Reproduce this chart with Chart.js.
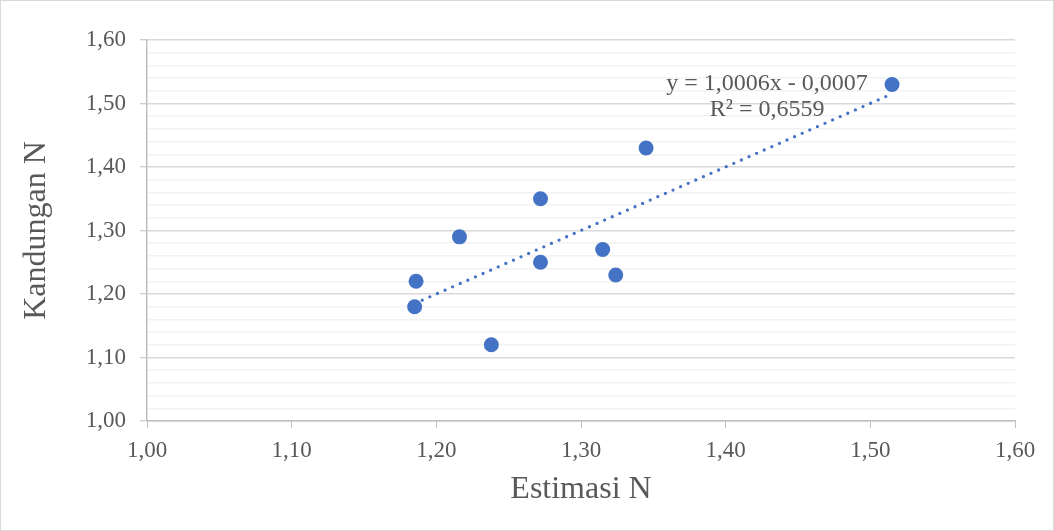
<!DOCTYPE html>
<html>
<head>
<meta charset="utf-8">
<script src="https://cdn.jsdelivr.net/npm/chart.js@4/dist/chart.umd.min.js"></script>
<style>
  html, body { margin: 0; padding: 0; background: #ffffff; }
  #wrap { width: 1054px; height: 531px; position: relative; }
</style>
</head>
<body>
<div id="wrap"><canvas id="c" width="1054" height="531"></canvas></div>
<script>
// ---- Data ----
const estimasiN   = [1.185, 1.186, 1.216, 1.238, 1.272, 1.272, 1.315, 1.324, 1.345, 1.515];
const kandunganN  = [1.18, 1.22, 1.29, 1.12, 1.35, 1.25, 1.27, 1.23, 1.43, 1.53];
const trendSlope = 1.0006;
const trendIntercept = -0.0007;
const trendLabel = ['y = 1,0006x - 0,0007', 'R² = 0,6559'];
const xTitle = 'Estimasi N';
const yTitle = 'Kandungan N';

const points = estimasiN.map((x, i) => ({ x: x, y: kandunganN[i] }));
const xMin = Math.min(...estimasiN), xMax = Math.max(...estimasiN);
const trendPoints = [xMin, xMax].map(x => ({ x: x, y: trendSlope * x + trendIntercept }));

const fmt = v => v.toFixed(2).replace('.', ',');
const isMajor = v => Math.round(v * 100) % 10 === 0;

const FONT = "'Liberation Serif', 'Times New Roman', serif";
const BLUE = '#4472C4';

const decor = {
  id: 'decor',
  afterDatasetsDraw(chart) {
    const ctx = chart.ctx;
    const xs = chart.scales.x, ys = chart.scales.y;
    ctx.save();
    ctx.fillStyle = '#595959';
    ctx.font = '24px ' + FONT;
    ctx.textAlign = 'center';
    ctx.textBaseline = 'middle';
    const cx = xs.getPixelForValue(1.4286);
    ctx.fillText(trendLabel[0], cx, ys.getPixelForValue(1.5307));
    ctx.fillText(trendLabel[1], cx, ys.getPixelForValue(1.4898));
    ctx.restore();
  },
  afterDraw(chart) {
    const ctx = chart.ctx;
    ctx.save();
    ctx.strokeStyle = '#d9d9d9';
    ctx.lineWidth = 1;
    ctx.strokeRect(0.5, 0.5, chart.width - 1, chart.height - 1);
    ctx.restore();
  }
};

new Chart(document.getElementById('c'), {
  type: 'scatter',
  data: {
    datasets: [
      {
        label: 'Trendline',
        data: trendPoints,
        showLine: true,
        borderColor: BLUE,
        borderWidth: 3.3,
        borderDash: [0, 8.3],
        borderCapStyle: 'round',
        pointRadius: 0,
        pointHoverRadius: 0,
        order: 2
      },
      {
        label: 'Data',
        data: points,
        backgroundColor: BLUE,
        borderColor: BLUE,
        pointRadius: 7.5,
        pointHoverRadius: 7.5,
        borderWidth: 0,
        order: 1
      }
    ]
  },
  options: {
    responsive: false,
    animation: false,
    events: [],
    layout: { padding: { top: 40, right: 39, left: 0, bottom: 0 } },
    plugins: {
      legend: { display: false },
      tooltip: { enabled: false }
    },
    scales: {
      x: {
        type: 'linear',
        min: 1.0, max: 1.6,
        afterFit(s) { s.height = 110; },
        border: { color: '#bfbfbf', width: 1.5 },
        grid: { drawOnChartArea: false, drawTicks: true, tickLength: 7, tickColor: '#bfbfbf', tickWidth: 1 },
        ticks: {
          stepSize: 0.1,
          padding: 9,
          color: '#595959',
          font: { family: FONT, size: 23 },
          callback: v => fmt(v)
        },
        title: {
          display: true,
          text: xTitle,
          color: '#595959',
          font: { family: FONT, size: 32 },
          padding: { top: 0, bottom: 22 }
        }
      },
      y: {
        type: 'linear',
        min: 1.0, max: 1.6,
        afterFit(s) { s.width = 147; },
        border: { color: '#bfbfbf', width: 1.5 },
        grid: {
          drawTicks: true,
          tickLength: 7,
          color: ctx => isMajor(ctx.tick.value) ? '#d9d9d9' : '#f2f2f2',
          lineWidth: 1.5,
          tickWidth: 1,
          tickColor: ctx => isMajor(ctx.tick.value) ? '#bfbfbf' : 'rgba(0,0,0,0)'
        },
        ticks: {
          stepSize: 0.02,
          autoSkip: false,
          padding: 14,
          color: '#595959',
          font: { family: FONT, size: 23 },
          callback: v => isMajor(v) ? fmt(v) : ''
        },
        title: {
          display: true,
          text: yTitle,
          color: '#595959',
          font: { family: FONT, size: 32 },
          padding: { top: 17, bottom: 0 }
        }
      }
    }
  },
  plugins: [decor]
});
</script>
</body>
</html>
